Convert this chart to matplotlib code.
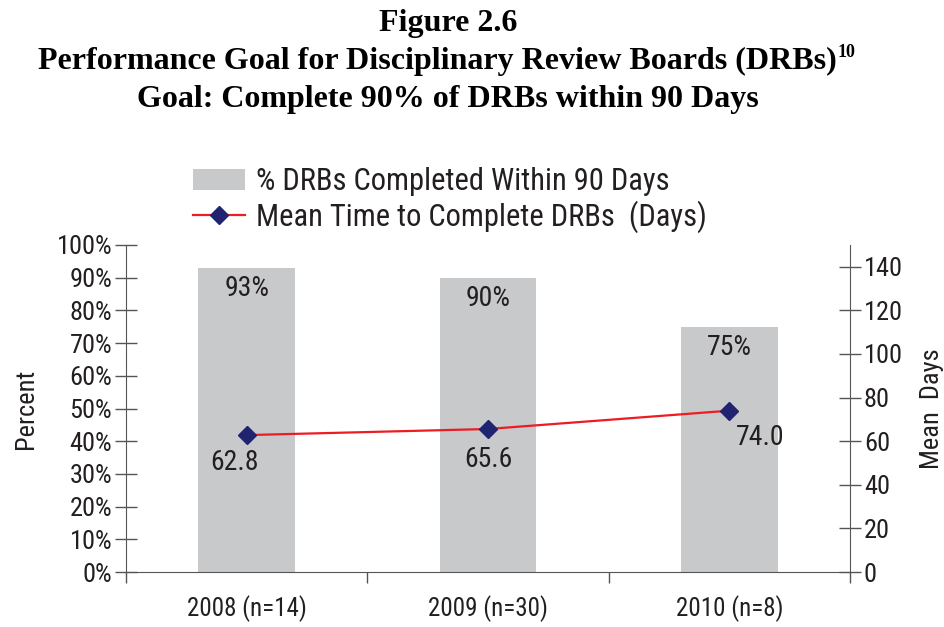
import matplotlib
matplotlib.use("Agg")
import matplotlib.pyplot as plt
from matplotlib import font_manager

categories = ["2008 (n=14)", "2009 (n=30)", "2010 (n=8)"]
pct_completed = [93, 90, 75]
mean_days = [62.8, 65.6, 74.0]
pct_ticks = list(range(0, 101, 10))
day_ticks = list(range(0, 141, 20))

names = {f.name for f in font_manager.fontManager.ttflist}
cand = ["Liberation Sans Narrow", "Roboto Condensed", "Open Sans Condensed", "Liberation Sans"]
sans = [c for c in cand if c in names][0]
plt.rcParams['font.family'] = [sans, 'DejaVu Sans']

TXT = "#231f20"
AX = "#555555"
BAR = "#c8c9cb"
RED = "#ed1c24"
NAVY = "#1f2370"

fig = plt.figure(figsize=(9.44, 6.27), dpi=100)
ax = fig.add_axes([126/944, 1-572/627, 724/944, (572-245)/627])
ax2 = ax.twinx()

x = [i + 0.5 for i in range(len(categories))]
bars = ax.bar(x, pct_completed, width=0.4, color=BAR, label="% DRBs Completed Within 90 Days", zorder=1)
ax.set_xlim(0, len(categories))
ax.set_ylim(0, 100)
ax.set_yticks(pct_ticks)
ax.set_yticklabels([f"{v}%" for v in pct_ticks])
ax.set_xticks([i for i in range(len(categories) + 1)])
ax.set_xticklabels([])
ax.set_xticks(x, minor=True)
ax.set_xticklabels(categories, minor=True)
ax.tick_params(axis='x', which='minor', length=0, pad=17, labelsize=18, labelcolor=TXT)
ax.tick_params(axis='x', which='major', direction='out', length=8, width=1, color=AX)
ax.tick_params(axis='y', direction='inout', length=16, width=1, color=AX, labelsize=19, labelcolor=TXT, pad=2)
for s in ['top', 'right']:
    ax.spines[s].set_visible(False)
for s in ['left', 'bottom']:
    ax.spines[s].set_color(AX)
ax.set_ylabel("Percent", fontsize=19, color=TXT, labelpad=13)

for xi, v in zip(x, pct_completed):
    ax.annotate(f"{v}%", (xi, v), xytext=(0, -15), textcoords='offset points',
                ha='center', va='center', fontsize=20, color=TXT)

line, = ax2.plot(x, mean_days, color=RED, lw=1.6, marker='D', markersize=9,
                 markerfacecolor=NAVY, markeredgecolor=NAVY, label="Mean Time to Complete DRBs  (Days)", zorder=3)
ax2.set_ylim(0, 150)
ax2.set_yticks(day_ticks)
ax2.tick_params(axis='y', direction='inout', length=16, width=1, color=AX, labelsize=19, labelcolor=TXT, pad=2)
for s in ['top', 'left', 'bottom']:
    ax2.spines[s].set_visible(False)
ax2.spines['right'].set_color(AX)
ax2.set_ylabel("Mean  Days", fontsize=19, color=TXT, labelpad=12)

offsets = [(-9, -20), (0, -22), (22, -19)]
for xi, v, off in zip(x, mean_days, offsets):
    ax2.annotate(f"{v:.1f}", (xi, v), xytext=off, textcoords='offset points',
                 ha='center', va='center', fontsize=20, color=TXT)

fig.legend([bars, line], [bars.get_label(), line.get_label()],
           loc='upper left', bbox_to_anchor=(193/944, 1-167/627), frameon=False,
           fontsize=22, handlelength=1.7, handleheight=0.7, handletextpad=0.35,
           labelspacing=0.15, labelcolor=TXT, borderpad=0, borderaxespad=0)

cx = 448/944
fig.text(cx, 1-31/627, "Figure 2.6", ha='center', va='baseline', fontsize=23,
         fontweight='bold', family='Liberation Serif', color='black')
t2 = fig.text(cx - 11/944, 1-69/627, "Performance Goal for Disciplinary Review Boards (DRBs)", ha='center',
              va='baseline', fontsize=23, fontweight='bold', family='Liberation Serif', color='black')
ax.annotate("10", xy=(1, 0.8), xycoords=t2, xytext=(0.5, 0), textcoords='offset points',
            ha='left', va='center', fontsize=13, fontweight='bold', family='Liberation Serif', color='black',
            annotation_clip=False)
fig.text(cx, 1-107/627, "Goal: Complete 90% of DRBs within 90 Days", ha='center', va='baseline',
         fontsize=23, fontweight='bold', family='Liberation Serif', color='black')

fig.savefig("out.png", dpi=100)
